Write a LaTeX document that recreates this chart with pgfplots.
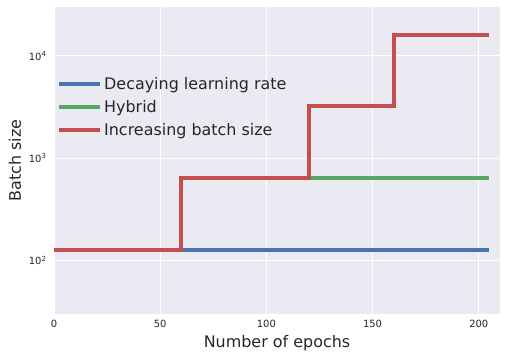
\documentclass[border=0pt]{standalone}
\usepackage{fontspec}
\setmainfont{DejaVu Sans}
\usepackage{pgfplots}
\pgfplotsset{compat=1.18}
\definecolor{bgc}{HTML}{EAEAF2}
\definecolor{sblue}{HTML}{4C72B0}
\definecolor{sgreen}{HTML}{55A868}
\definecolor{sred}{HTML}{C44E52}
\definecolor{txt}{HTML}{262626}
\begin{document}
\begin{tikzpicture}
\begin{axis}[
  name=ax,
  scale only axis, width=446bp, height=307bp,
  ymode=log, xmin=0, xmax=210, ymin=30, ymax=30000,
  axis background/.style={fill=bgc},
  axis line style={draw=none},
  major tick length=0pt, minor tick length=0pt,
  tick style={draw=none},
  grid=major, minor grid style={draw=none},
  major grid style={white, line width=1.1bp},
  xtick={0,50,100,150,200},
  ytick={100,1000,10000}, minor ytick={},
  yticklabels={10\textsuperscript{2},10\textsuperscript{3},10\textsuperscript{4}},
  xticklabel style={font=\fontsize{10}{12}\selectfont, text=txt, yshift=-3bp, /pgf/number format/assume math mode=true},
  yticklabel style={font=\fontsize{10}{12}\selectfont, text=txt, xshift=-4bp},
  xlabel={Number of epochs}, ylabel={Batch size},
  every axis x label/.style={at={(axis description cs:0.5,-0.094)}, anchor=center,
    font=\fontsize{16}{19}\selectfont, text=txt},
  every axis y label/.style={at={(axis description cs:-0.0874,0.5)}, anchor=center, rotate=90,
    font=\fontsize{16}{19}\selectfont, text=txt},
  legend style={draw=none, fill=none, at={(0.0,0.674)}, anchor=west,
    font=\fontsize{16}{19}\selectfont, text=txt, row sep=5.5bp},
  legend cell align=left,
  legend image code/.code={\draw[#1, line width=4bp, line cap=round] (2bp,0bp) -- (35bp,0bp); \path (0bp,0bp) -- (41bp,0bp);},
  every axis plot/.append style={line width=4bp, line join=miter},
]
\addplot[sblue, const plot] coordinates {(0,128) (205,128)};
\addlegendentry{Decaying learning rate}
\addplot[sgreen, const plot] coordinates {(0,128) (60,640) (205,640)};
\addlegendentry{Hybrid}
\addplot[sred, const plot] coordinates {(0,128) (60,640) (120,3200) (160,16000) (205,16000)};
\addlegendentry{Increasing batch size}
\end{axis}
\pgfresetboundingbox
\path[use as bounding box] ([shift={(-54bp,-44bp)}]ax.south west) rectangle ([shift={(7bp,7bp)}]ax.north east);
\end{tikzpicture}
\end{document}
